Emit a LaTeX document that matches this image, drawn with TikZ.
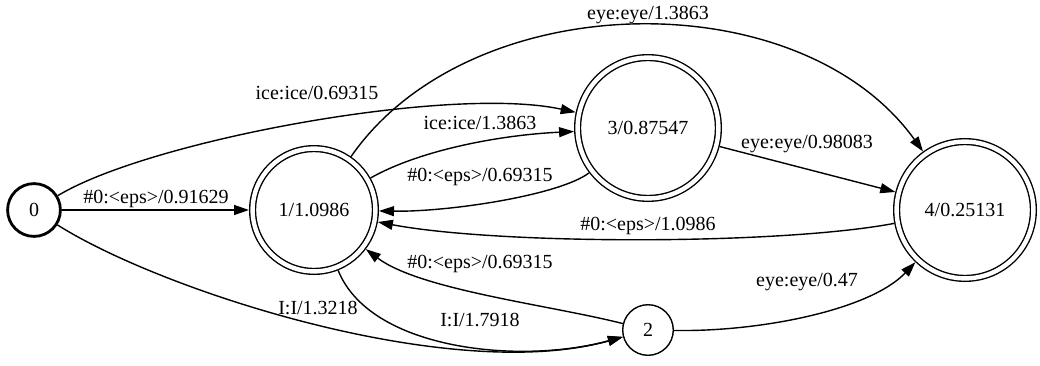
\documentclass[tikz,border=0pt]{standalone}
\usepackage{fontspec}
\setmainfont{Liberation Serif}
\usetikzlibrary{arrows.meta}

\begin{document}
\begin{tikzpicture}[
  x=0.5pt,y=-0.5pt,
  line width=0.7pt,
  >={Triangle[length=7.5pt,width=5pt]},
  stnode/.style={draw,circle,inner sep=0pt,outer sep=0.35pt,font=\normalsize},
  startnode/.style={stnode,line width=1.4pt,outer sep=0.7pt},
  finalnode/.style={stnode,double=white,double distance=2.2pt,outer sep=1.8pt},
  lbl/.style={font=\normalsize,inner sep=0pt}
]
\useasboundingbox (0,0) rectangle (1040,365);

% States, at the places the layout gave them.
\node[startnode,minimum size=26.4pt] (n0) at (34,210) {0};
\node[finalnode,minimum size=61.4pt] (n1) at (314,210) {1/1.0986};
\node[stnode,minimum size=25.3pt] (n2) at (648,330) {2};
\node[finalnode,minimum size=70.4pt] (n3) at (648,128) {3/0.87547};
\node[finalnode,minimum size=68.4pt] (n4) at (965,210) {4/0.25131};

% Arcs leaving state 0.
\draw[->] (n0) -- (n1);
\draw[->] (n0) .. controls (150,140) and (450,85) .. (n3);
\draw[->] (n0) .. controls (160,290) and (450,385) .. (n2);
\node[lbl] (l01) at (156,199) {\#0:<eps>/0.91629};
\node[lbl] (l03) at (317,93) {ice:ice/0.69315};
\node[lbl] (l02) at (318,308) {I:I/1.3218};

% Arcs between 1 and 3, and on to 4.
\draw[->] (n1) .. controls (420,150) and (500,135) .. (n3);
\draw[->] (n3) .. controls (560,195) and (450,212) .. (n1);
\draw[->] (n1) .. controls (470,-15) and (800,-20) .. (n4);
\draw[->] (n3) -- (n4);
\draw[->] (n4) .. controls (780,245) and (500,245) .. (n1);
\node[lbl] (l13) at (480,123) {ice:ice/1.3863};
\node[lbl] (l31) at (480,177) {\#0:<eps>/0.69315};
\node[lbl] (l14) at (648,15) {eye:eye/1.3863};
\node[lbl] (l34) at (807,144) {eye:eye/0.98083};
\node[lbl] (l41) at (648,226) {\#0:<eps>/1.0986};

% Arcs through state 2.
\draw[->] (n1) .. controls (370,350) and (520,365) .. (n2);
\draw[->] (n2) .. controls (550,305) and (420,290) .. (n1);
\draw[->] (n2) .. controls (760,332) and (870,310) .. (n4);
\node[lbl] (l12) at (480,320) {I:I/1.7918};
\node[lbl] (l21) at (480,264) {\#0:<eps>/0.69315};
\node[lbl] (l24) at (807,282) {eye:eye/0.47};

\end{tikzpicture}
\end{document}
